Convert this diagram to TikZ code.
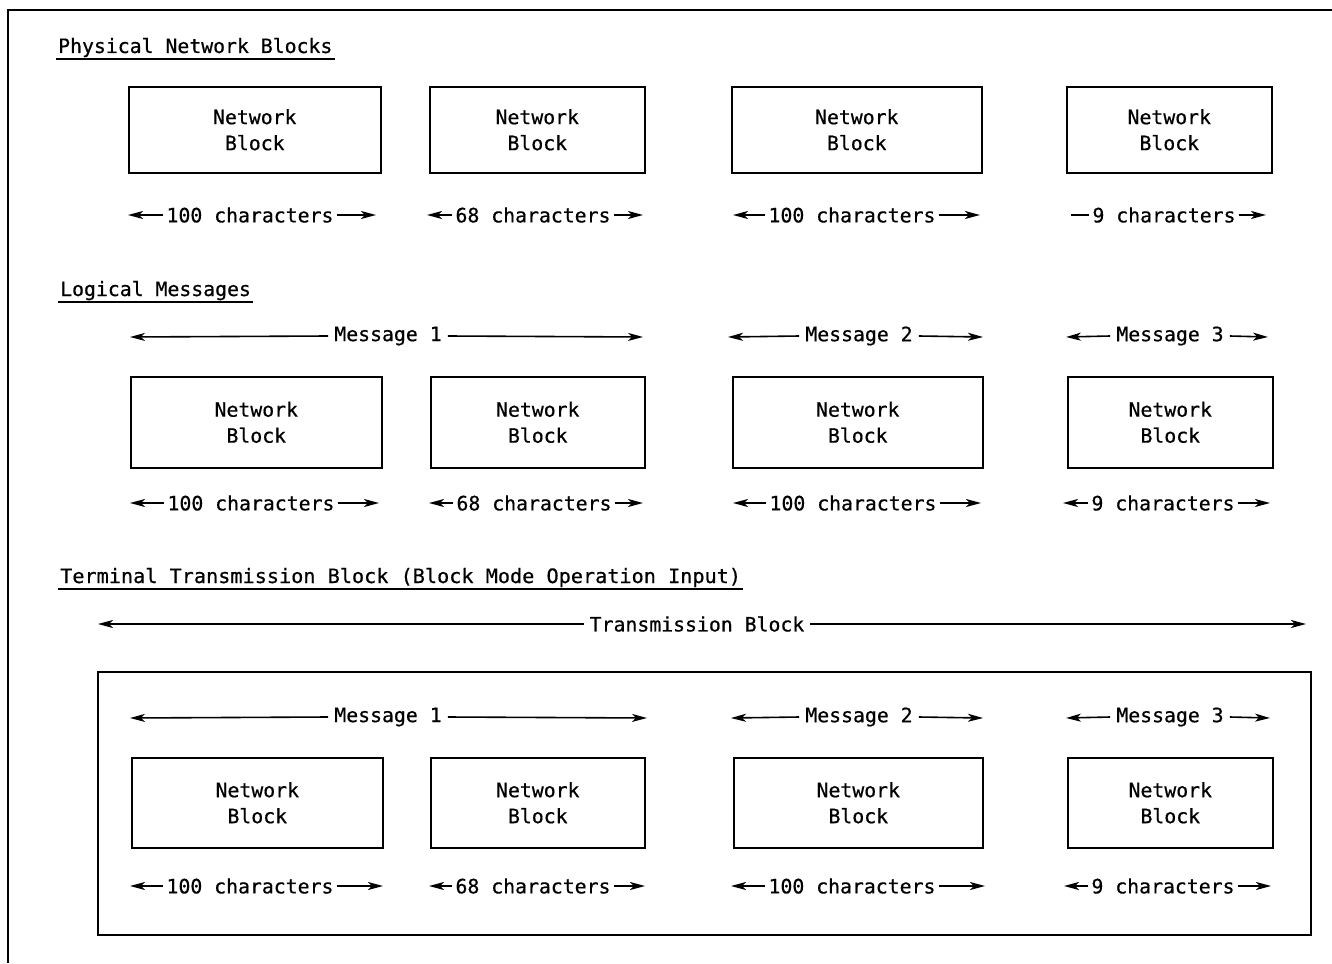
\documentclass[tikz,border=0pt]{standalone}
\usepackage{fontspec}
\setmonofont[FakeBold=0.6]{DejaVu Sans Mono}
\usetikzlibrary{arrows.meta}
\begin{document}
\begin{tikzpicture}[x=1pt,y=-1pt,
  txt/.style={font=\ttfamily\fontsize{19.8}{26}\selectfont, inner sep=3pt},
  msg/.style={txt, inner xsep=6pt},
  nb/.style={draw, line width=1.6pt, txt, align=center, anchor=north west},
  arr/.style={line width=1.6pt, -{Stealth[length=15pt,width=8pt,inset=4pt]}},
  plain/.style={line width=1.6pt},
  frame/.style={line width=1.6pt}]
\useasboundingbox (0,0) rectangle (1332,963);
% outer frame
\coordinate (fa) at (8,963);
\coordinate (fb) at (8,10);
\coordinate (fc) at (1332,10);
\draw[frame] (fa) -- (fb) -- (fc);

% headings
\node[txt, anchor=base west, inner sep=0pt] (h1) at (58,53) {Physical Network Blocks};
\node[txt, anchor=base west, inner sep=0pt] (h2) at (60,296) {Logical Messages};
\node[txt, anchor=base west, inner sep=0pt, xscale=1.02, transform shape] (h3) at (60,583) {Terminal Transmission Block (Block Mode Operation Input)};
\foreach \h in {h1,h2,h3}
  \draw[line width=1.5pt] ([xshift=-2pt,yshift=-6pt]\h.base west) -- ([xshift=2pt,yshift=-6pt]\h.base east);

% ---------- Row 1 ----------
\node[nb, minimum width=252pt, minimum height=86pt] (b11) at (128,86) {Network\\Block};
\node[nb, minimum width=215pt, minimum height=86pt] (b12) at (429,86) {Network\\Block};
\node[nb, minimum width=250pt, minimum height=86pt] (b13) at (731,86) {Network\\Block};
\node[nb, minimum width=205pt, minimum height=86pt] (b14) at (1066,86) {Network\\Block};

\node[txt] (l11) at (250,215) {100 characters};
\node[txt] (l12) at (533,215) {68 characters};
\node[txt] (l13) at (852,215) {100 characters};
\node[txt] (l14) at (1164,215) {9 characters};
\coordinate (l11a) at (128,215); \coordinate (l11b) at (376,215);
\coordinate (l12a) at (427,215); \coordinate (l12b) at (643,215);
\coordinate (l13a) at (733,215); \coordinate (l13b) at (980,215);
\coordinate (l14a) at (1071,215); \coordinate (l14b) at (1266,215);
\draw[arr] (l11.west) -- (l11a); \draw[arr] (l11.east) -- (l11b);
\draw[arr] (l12.west) -- (l12a); \draw[arr] (l12.east) -- (l12b);
\draw[arr] (l13.west) -- (l13a); \draw[arr] (l13.east) -- (l13b);
\draw[plain] (l14.west) -- (l14a); \draw[arr] (l14.east) -- (l14b);

% ---------- Row 2 ----------
\node[msg] (m21) at (388,336) {Message 1};
\node[msg] (m22) at (859,336) {Message 2};
\node[msg] (m23) at (1170,336) {Message 3};
\coordinate (m21a) at (130,337); \coordinate (m21b) at (643,337);
\coordinate (m22a) at (728,337); \coordinate (m22b) at (983,337);
\coordinate (m23a) at (1066,337); \coordinate (m23b) at (1268,337);
\draw[arr] (m21.west) -- (m21a); \draw[arr] (m21.east) -- (m21b);
\draw[arr] (m22.west) -- (m22a); \draw[arr] (m22.east) -- (m22b);
\draw[arr] (m23.west) -- (m23a); \draw[arr] (m23.east) -- (m23b);

\node[nb, minimum width=251pt, minimum height=91pt] (b21) at (130,376) {Network\\Block};
\node[nb, minimum width=214pt, minimum height=91pt] (b22) at (430,376) {Network\\Block};
\node[nb, minimum width=250pt, minimum height=91pt] (b23) at (732,376) {Network\\Block};
\node[nb, minimum width=205pt, minimum height=91pt] (b24) at (1067,376) {Network\\Block};

\node[txt] (l21) at (251,503) {100 characters};
\node[txt] (l22) at (534,503) {68 characters};
\node[txt] (l23) at (853,503) {100 characters};
\node[txt] (l24) at (1163,503) {9 characters};
\coordinate (l21a) at (130,503); \coordinate (l21b) at (379,503);
\coordinate (l22a) at (429,503); \coordinate (l22b) at (643,503);
\coordinate (l23a) at (733,503); \coordinate (l23b) at (981,503);
\coordinate (l24a) at (1063,503); \coordinate (l24b) at (1270,503);
\draw[arr] (l21.west) -- (l21a); \draw[arr] (l21.east) -- (l21b);
\draw[arr] (l22.west) -- (l22a); \draw[arr] (l22.east) -- (l22b);
\draw[arr] (l23.west) -- (l23a); \draw[arr] (l23.east) -- (l23b);
\draw[arr] (l24.west) -- (l24a); \draw[arr] (l24.east) -- (l24b);

% ---------- Row 3 ----------
\node[msg] (tb) at (697,624) {Transmission Block};
\coordinate (tba) at (98,624); \coordinate (tbb) at (1306,624);
\draw[arr] (tb.west) -- (tba); \draw[arr] (tb.east) -- (tbb);

\node[draw, line width=1.6pt, minimum width=1213pt, minimum height=263pt, anchor=north west, inner sep=0pt] (big) at (97,671) {};

\node[msg] (m31) at (388,717) {Message 1};
\node[msg] (m32) at (859,717) {Message 2};
\node[msg] (m33) at (1170,717) {Message 3};
\coordinate (m31a) at (130,718); \coordinate (m31b) at (647,718);
\coordinate (m32a) at (731,718); \coordinate (m32b) at (983,718);
\coordinate (m33a) at (1066,718); \coordinate (m33b) at (1270,718);
\draw[arr] (m31.west) -- (m31a); \draw[arr] (m31.east) -- (m31b);
\draw[arr] (m32.west) -- (m32a); \draw[arr] (m32.east) -- (m32b);
\draw[arr] (m33.west) -- (m33a); \draw[arr] (m33.east) -- (m33b);

\node[nb, minimum width=251pt, minimum height=90pt] (b31) at (131,757) {Network\\Block};
\node[nb, minimum width=214pt, minimum height=90pt] (b32) at (430,757) {Network\\Block};
\node[nb, minimum width=249pt, minimum height=90pt] (b33) at (733,757) {Network\\Block};
\node[nb, minimum width=205pt, minimum height=90pt] (b34) at (1067,757) {Network\\Block};

\node[txt] (l31) at (250,886) {100 characters};
\node[txt] (l32) at (533,886) {68 characters};
\node[txt] (l33) at (852,886) {100 characters};
\node[txt] (l34) at (1163,886) {9 characters};
\coordinate (l31a) at (130,886); \coordinate (l31b) at (383,886);
\coordinate (l32a) at (429,886); \coordinate (l32b) at (645,886);
\coordinate (l33a) at (731,886); \coordinate (l33b) at (985,886);
\coordinate (l34a) at (1064,886); \coordinate (l34b) at (1271,886);
\draw[arr] (l31.west) -- (l31a); \draw[arr] (l31.east) -- (l31b);
\draw[arr] (l32.west) -- (l32a); \draw[arr] (l32.east) -- (l32b);
\draw[arr] (l33.west) -- (l33a); \draw[arr] (l33.east) -- (l33b);
\draw[arr] (l34.west) -- (l34a); \draw[arr] (l34.east) -- (l34b);
\end{tikzpicture}
\end{document}
